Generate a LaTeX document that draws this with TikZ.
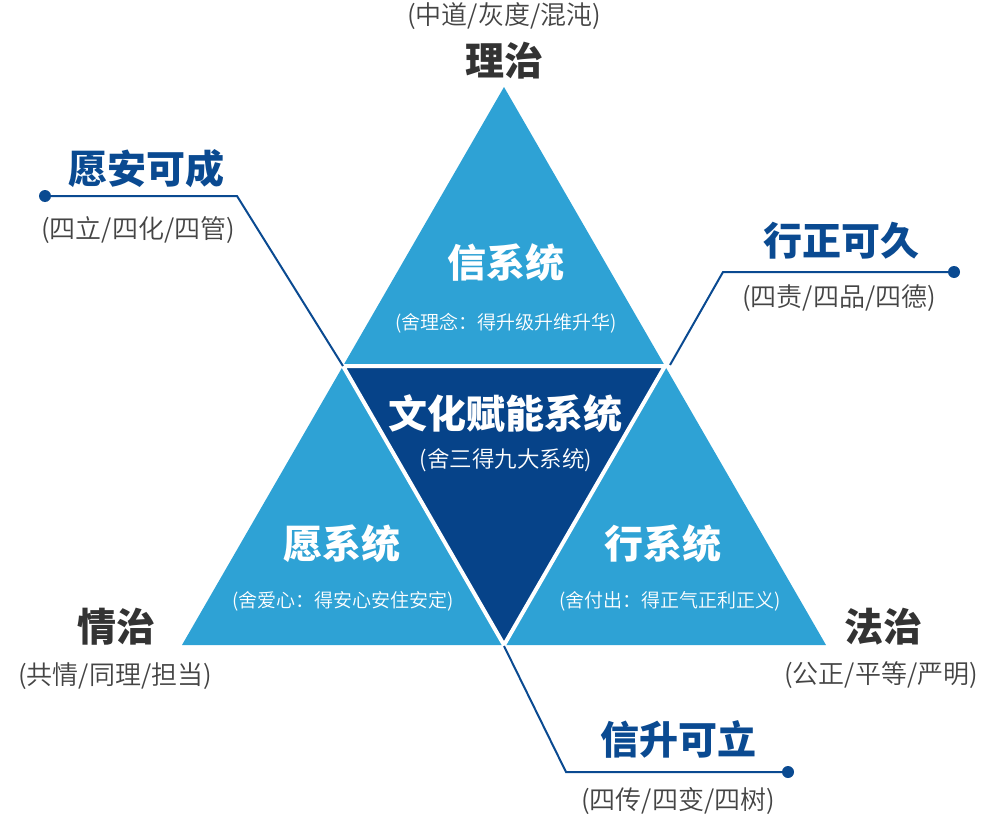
\documentclass[tikz,border=0pt]{standalone}
\usepackage{fontspec}
\setmainfont{Noto Sans CJK SC}
\newfontfamily\lightcjk{Noto Sans CJK SC DemiLight}
\definecolor{lightblue}{HTML}{2EA2D5}
\definecolor{darkblue}{HTML}{064389}
\definecolor{labelblue}{HTML}{0A4A91}
\definecolor{headgray}{HTML}{333333}
\definecolor{subgray}{HTML}{444444}
\tikzset{
  bigtitle/.style={inner sep=0pt, font=\fontsize{39}{41}\selectfont\bfseries},
  headtext/.style={bigtitle, text=headgray},
  bluetitle/.style={bigtitle, text=labelblue},
  whitetitle/.style={bigtitle, text=white},
  subtext/.style={inner sep=0pt, text=subgray, font=\lightcjk\fontsize{26}{28}\selectfont},
  whitesub/.style={inner sep=0pt, text=white, font=\lightcjk\fontsize{19}{21}\selectfont},
  whitesubbig/.style={inner sep=0pt, text=white, font=\lightcjk\fontsize{22.5}{24}\selectfont},
  connector/.style={draw=labelblue, line width=2pt, line join=miter},
  enddot/.style={circle, fill=labelblue, inner sep=0pt, minimum size=12pt},
  gapline/.style={draw=white, line width=4pt}
}
\begin{document}
\begin{tikzpicture}[x=1pt, y=-1pt]
\useasboundingbox (0,0) rectangle (995,816);
% triangle corners
\coordinate (A) at (504,87);
\coordinate (L) at (182,645);
\coordinate (R) at (826,645);
\coordinate (ML) at (343,366);
\coordinate (MR) at (665,366);
\coordinate (MB) at (504,645);
% triangles
\fill[lightblue] (A) -- (MR) -- (ML) -- cycle;
\fill[lightblue] (ML) -- (MB) -- (L) -- cycle;
\fill[lightblue] (MR) -- (R) -- (MB) -- cycle;
\fill[darkblue] (ML) -- (MR) -- (MB) -- cycle;
\draw[gapline] (ML) -- (MR) -- (MB) -- cycle;
% connectors
\node[enddot] (dotL) at (45,196) {};
\coordinate (kneeL) at (237,196);
\draw[connector] (dotL.center) -- (kneeL) -- (ML);
\node[enddot] (dotR) at (954,272) {};
\coordinate (kneeR) at (723,272);
\coordinate (endR) at (670,365);
\draw[connector] (dotR.center) -- (kneeR) -- (endR);
\node[enddot] (dotB) at (788,772) {};
\coordinate (kneeB) at (566,772);
\coordinate (startB) at (504,646);
\draw[connector] (startB) -- (kneeB) -- (dotB.center);
% top label
\node[subtext] (topsub) at (504,16) {(中道/灰度/混沌)};
\node[headtext] (tophead) at (504,61) {理治};
% left upper
\node[bluetitle] (ya) at (146,169) {愿安可成};
\node[subtext] (yasub) at (138,230) {(四立/四化/四管)};
% right upper
\node[bluetitle] (xz) at (841,241) {行正可久};
\node[subtext] (xzsub) at (839,298) {(四责/四品/四德)};
% lower left
\node[headtext] (qz) at (116,627) {情治};
\node[subtext] (qzsub) at (115,676) {(共情/同理/担当)};
% lower right
\node[headtext] (fz) at (883,627) {法治};
\node[subtext] (fzsub) at (881,675) {(公正/平等/严明)};
% bottom
\node[bluetitle] (xs) at (678,739) {信升可立};
\node[subtext] (xssub) at (678,801) {(四传/四变/四树)};
% inside triangles
\node[whitetitle] (xin) at (506,263) {信系统};
\node[whitesub] (xinsub) at (506,323) {(舍理念：得升级升维升华)};
\node[whitetitle] (wh) at (505,414) {文化赋能系统};
\node[whitesubbig] (whsub) at (506,460) {(舍三得九大系统)};
\node[whitetitle] (yuan) at (342,544) {愿系统};
\node[whitesub] (yuansub) at (343,601) {(舍爱心：得安心安住安定)};
\node[whitetitle] (xing) at (663,544) {行系统};
\node[whitesub] (xingsub) at (670,601) {(舍付出：得正气正利正义)};
\end{tikzpicture}
\end{document}
